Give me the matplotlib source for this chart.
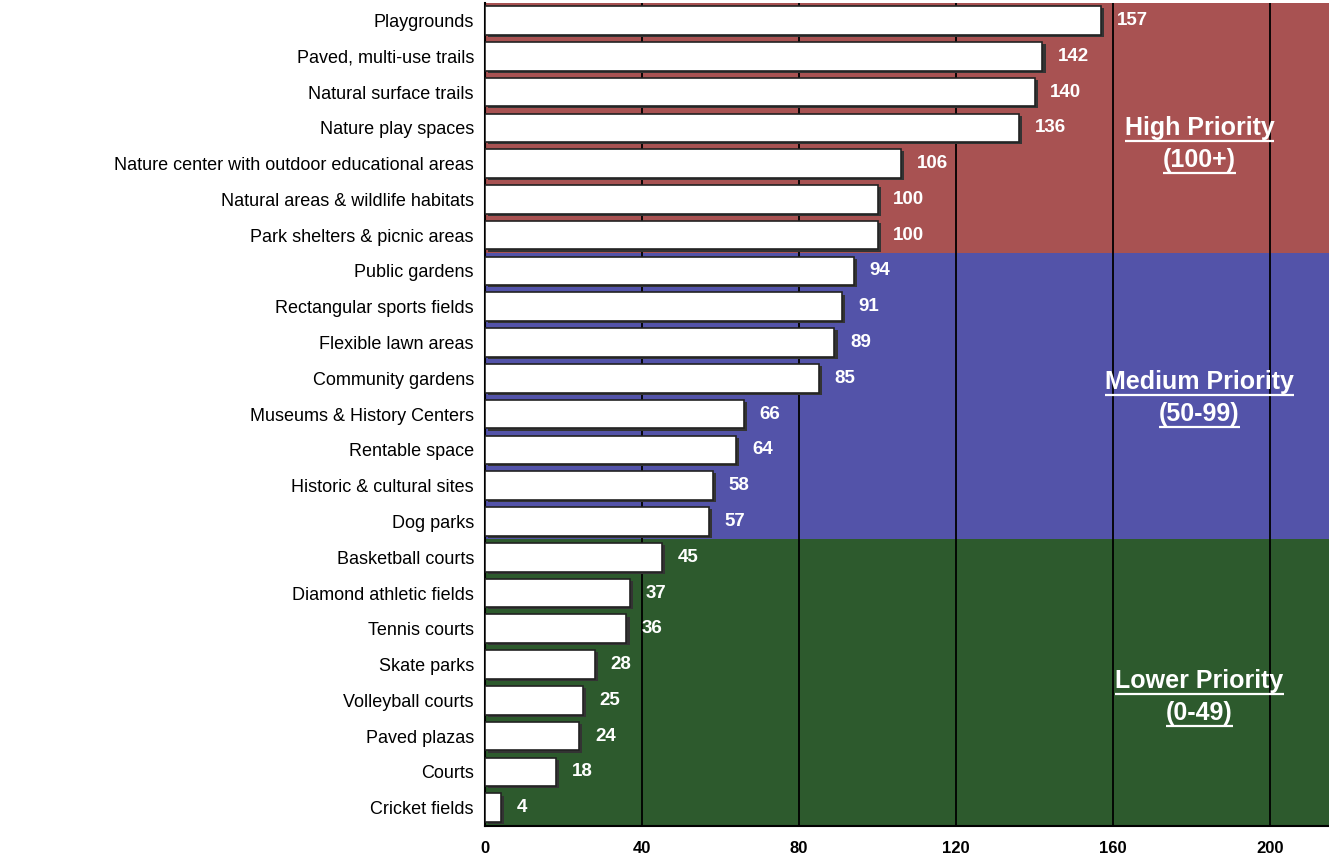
import numpy as np
from matplotlib import pyplot as plt

# Facilities and their priority scores (top to bottom)
facilities = [
    "Playgrounds", "Paved, multi-use trails", "Natural surface trails",
    "Nature play spaces", "Nature center with outdoor educational areas",
    "Natural areas & wildlife habitats", "Park shelters & picnic areas",
    "Public gardens", "Rectangular sports fields", "Flexible lawn areas",
    "Community gardens", "Museums & History Centers", "Rentable space",
    "Historic & cultural sites", "Dog parks", "Basketball courts",
    "Diamond athletic fields", "Tennis courts", "Skate parks",
    "Volleyball courts", "Paved plazas", "Courts", "Cricket fields",
]
scores = [157, 142, 140, 136, 106, 100, 100, 94, 91, 89, 85, 66, 64, 58, 57,
          45, 37, 36, 28, 25, 24, 18, 4]

# Priority bands: title, range, number of rows, colour
band_titles = ["High Priority", "Medium Priority", "Lower Priority"]
band_ranges = ["(100+)", "(50-99)", "(0-49)"]
band_rows = [7, 8, 8]
band_colors = ["#a85252", "#5353a9", "#2d5a2d"]
xticks = [0, 40, 80, 120, 160, 200]


def underline(ax, fig, txt):
    # draw a line just below a text object
    r = fig.canvas.get_renderer()
    bb = txt.get_window_extent(renderer=r)
    inv = ax.transData.inverted()
    (x0, y0), (x1, _) = inv.transform([(bb.x0, bb.y0 - 1), (bb.x1, bb.y0 - 1)])
    ax.plot([x0, x1], [y0, y0], color="white", lw=1.6, zorder=5,
            solid_capstyle="butt")


def main():
    plt.rcParams["font.family"] = ["Liberation Sans", "DejaVu Sans"]
    fig = plt.figure(figsize=(13.29, 8.6), dpi=100)
    ax = fig.add_axes([0.365, 0.04, 0.635, 0.957])

    n = len(facilities)
    y = np.arange(n)
    xmax = 215
    ax.set_ylim(n - 0.5, -0.5)
    ax.set_xlim(0, xmax)

    # coloured background bands
    label_y = [3.0, 10.1, 18.45]
    start = -0.5
    titles = []
    for title, rng, rows, col, ly in zip(band_titles, band_ranges, band_rows,
                                         band_colors, label_y):
        ax.axhspan(start, start + rows, color=col, zorder=0, lw=0)
        t1 = ax.text(182, ly, title, ha="center", va="center", color="white",
                     fontsize=18, fontweight="bold", zorder=5)
        t2 = ax.text(182, ly + 0.9, rng, ha="center", va="center", color="white",
                     fontsize=18, fontweight="bold", zorder=5)
        titles += [t1, t2]
        start += rows

    # vertical grid lines
    for t in xticks[1:]:
        ax.axvline(t, color="black", lw=1.3, zorder=1)

    # bars with a little shadow
    ax.barh(y + 0.06, scores, height=0.8, left=0.8, color="#333333", zorder=2)
    ax.barh(y, scores, height=0.8, color="white", edgecolor="#222222",
            lw=1.2, zorder=3)
    for yi, v in zip(y, scores):
        ax.text(v + 4, yi, str(v), va="center", ha="left", color="white",
                fontsize=13.5, fontweight="bold", zorder=5)

    ax.set_yticks(y)
    ax.set_yticklabels(facilities, fontsize=13)
    ax.set_xticks(xticks)
    ax.set_xticklabels([str(t) for t in xticks], fontsize=12, fontweight="bold")
    ax.tick_params(length=0, pad=8)
    ax.tick_params(axis="x", pad=11)
    for s in ["top", "right"]:
        ax.spines[s].set_visible(False)
    ax.spines["left"].set_linewidth(1.5)
    ax.spines["bottom"].set_linewidth(1.5)

    fig.canvas.draw()
    for t in titles:
        underline(ax, fig, t)

    fig.savefig("out.png", dpi=100)


if __name__ == "__main__":
    main()
